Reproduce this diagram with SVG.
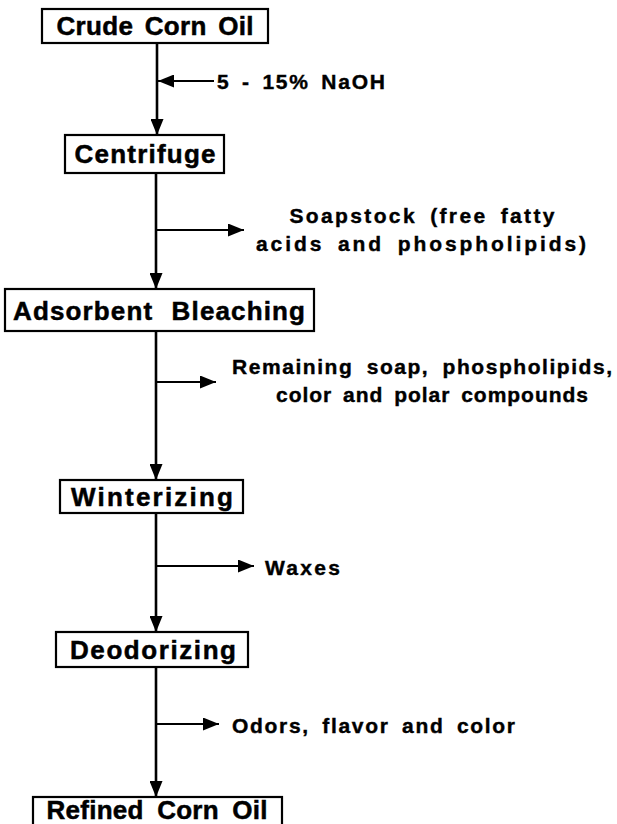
<svg xmlns="http://www.w3.org/2000/svg" width="617" height="824" viewBox="0 0 617 824">
  <defs>
    <marker id="head" viewBox="0 0 16 13" refX="16" refY="6.5" markerWidth="16" markerHeight="13" markerUnits="userSpaceOnUse" orient="auto">
      <path d="M0,0 L16,6.5 L0,13 Z" fill="#000"/>
    </marker>
    <style>
      .box { fill: #fff; stroke: #000; stroke-width: 2.2; }
      .node { font-family: "Liberation Sans", Arial, Helvetica, sans-serif; font-weight: bold; font-size: 26px; fill: #000; stroke: #000; stroke-width: 0.5; }
      .lbl { font-family: "Liberation Sans", Arial, Helvetica, sans-serif; font-weight: bold; font-size: 21px; fill: #000; stroke: #000; stroke-width: 0.4; }
      .flow { fill: none; stroke: #000; stroke-width: 2.6; }
      .side { fill: none; stroke: #000; stroke-width: 2.2; }
    </style>
  </defs>
  <rect width="617" height="824" fill="#fff"/>

  <!-- main flow and side streams -->
  <g id="connectors">
    <line class="flow" x1="157" y1="43" x2="157" y2="135" marker-end="url(#head)"/>
    <line class="side" x1="214" y1="81" x2="158" y2="81" marker-end="url(#head)"/>
    <line class="flow" x1="156" y1="173" x2="156" y2="289" marker-end="url(#head)"/>
    <line class="side" x1="156" y1="230" x2="244" y2="230" marker-end="url(#head)"/>
    <line class="flow" x1="156" y1="331" x2="156" y2="480" marker-end="url(#head)"/>
    <line class="side" x1="156" y1="382" x2="216" y2="382" marker-end="url(#head)"/>
    <line class="flow" x1="156" y1="513" x2="156" y2="632" marker-end="url(#head)"/>
    <line class="side" x1="156" y1="566" x2="254" y2="566" marker-end="url(#head)"/>
    <line class="flow" x1="156" y1="667" x2="156" y2="797" marker-end="url(#head)"/>
    <line class="side" x1="156" y1="724" x2="219" y2="724" marker-end="url(#head)"/>
  </g>

  <g id="crude-corn-oil">
    <rect class="box" x="42" y="9" width="226" height="34"/>
    <text class="node" x="155" y="35" text-anchor="middle" textLength="197" lengthAdjust="spacing" word-spacing="4">Crude Corn Oil</text>
  </g>
  <g id="naoh">
    <text class="lbl" x="217" y="89" textLength="168" lengthAdjust="spacing" word-spacing="4">5 - 15% NaOH</text>
  </g>
  <g id="centrifuge">
    <rect class="box" x="65" y="135" width="159" height="38"/>
    <text class="node" x="145" y="163" text-anchor="middle" textLength="141" lengthAdjust="spacing">Centrifuge</text>
  </g>
  <g id="soapstock">
    <text class="lbl" x="422" y="223" text-anchor="middle" textLength="265" lengthAdjust="spacing" word-spacing="5">Soapstock (free fatty</text>
    <text class="lbl" x="421" y="251" text-anchor="middle" textLength="330" lengthAdjust="spacing" word-spacing="5">acids and phospholipids)</text>
  </g>
  <g id="adsorbent-bleaching">
    <rect class="box" x="5" y="289" width="309" height="42"/>
    <text class="node" x="159" y="320" text-anchor="middle" textLength="292" lengthAdjust="spacing" word-spacing="10">Adsorbent Bleaching</text>
  </g>
  <g id="remaining">
    <text class="lbl" x="422" y="374" text-anchor="middle" textLength="380" lengthAdjust="spacing" word-spacing="6">Remaining soap, phospholipids,</text>
    <text class="lbl" x="432" y="402" text-anchor="middle" textLength="312" lengthAdjust="spacing" word-spacing="4">color and polar compounds</text>
  </g>
  <g id="winterizing">
    <rect class="box" x="60" y="480" width="183" height="33"/>
    <text class="node" x="152" y="506" text-anchor="middle" textLength="162" lengthAdjust="spacing">Winterizing</text>
  </g>
  <g id="waxes">
    <text class="lbl" x="265" y="575" textLength="75" lengthAdjust="spacing">Waxes</text>
  </g>
  <g id="deodorizing">
    <rect class="box" x="56" y="632" width="192" height="35"/>
    <text class="node" x="153" y="659" text-anchor="middle" textLength="166" lengthAdjust="spacing">Deodorizing</text>
  </g>
  <g id="odors">
    <text class="lbl" x="232" y="733" textLength="283" lengthAdjust="spacing" word-spacing="5">Odors, flavor and color</text>
  </g>
  <g id="refined-corn-oil">
    <rect class="box" x="33" y="797" width="249" height="36"/>
    <text class="node" x="157" y="819" text-anchor="middle" textLength="221" lengthAdjust="spacing" word-spacing="6">Refined Corn Oil</text>
  </g>
</svg>
